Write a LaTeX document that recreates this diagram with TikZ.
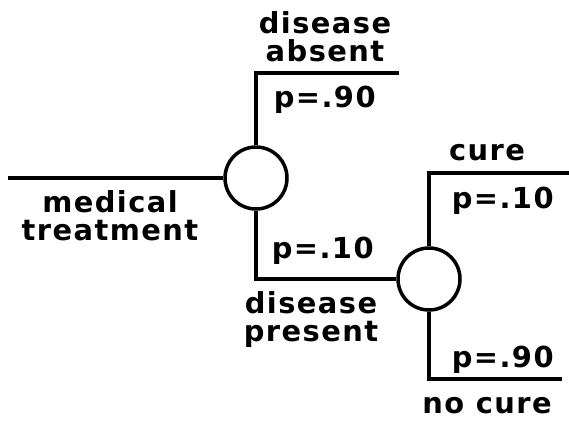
\documentclass[tikz,border=0pt]{standalone}
\usepackage{fontspec}
\newfontfamily\treefont{DejaVu Sans}[LetterSpace=5]

\begin{document}
\begin{tikzpicture}[x=1bp,y=-1bp,line width=3.5bp,
    chance/.style={draw,circle,minimum size=62bp,inner sep=0pt},
    lbl/.style={font={\treefont\bfseries\fontsize{29}{28}\selectfont},inner sep=0pt,align=center}]
    \useasboundingbox (0,0) rectangle (569,420);

    \node[chance] (c1) at (256,178) {};
    \node[chance] (c2) at (429,279) {};
    \coordinate (start) at (8,178);
    \coordinate (absent) at (399,73);
    \coordinate (cure) at (569,173);
    \coordinate (nocure) at (562,379);

    \draw (start) -- (c1);
    \draw (c1) |- (absent);
    \draw (c1) |- (c2);
    \draw (c2) |- (cure);
    \draw (c2) |- (nocure);

    % two-line labels sit on the baseline of their last line
    \node[lbl,anchor=base] (tabsent) at (325,61) {disease\\absent};
    \node[lbl,anchor=base west] (pabsent) at (272,107) {p=.90};
    \node[lbl,anchor=base] (tmed) at (110,240) {medical\\treatment};
    \node[lbl,anchor=base west] (ppresent) at (270,258) {p=.10};
    \node[lbl,anchor=base] (tpresent) at (311,341) {disease\\present};
    \node[lbl,anchor=base] (tcure) at (487,160) {cure};
    \node[lbl,anchor=base west] (pcure) at (450,208) {p=.10};
    \node[lbl,anchor=base west] (pnocure) at (450,367) {p=.90};
    \node[lbl,anchor=base] (tnocure) at (487,413) {no cure};
\end{tikzpicture}
\end{document}
